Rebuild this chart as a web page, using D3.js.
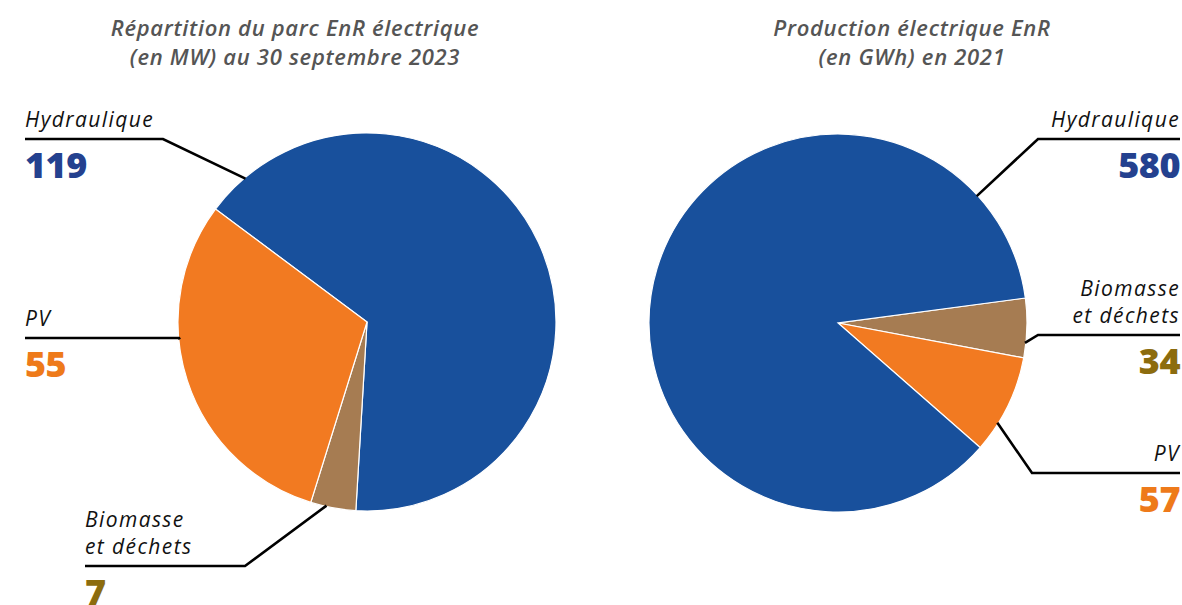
<!DOCTYPE html>
<html><head><meta charset="utf-8">
<script src="https://cdn.jsdelivr.net/npm/d3@7"></script>
<style>
html,body{margin:0;padding:0;background:#fff;}
svg{display:block;}
</style></head>
<body>
<svg id="chart" width="1182" height="605"></svg>
<script>
// ---- Data ----
const leftTitle = ["Répartition du parc EnR électrique", "(en MW) au 30 septembre 2023"];
const leftCategories = ["Hydraulique", "Biomasse et déchets", "PV"];
const leftValues = [119, 7, 55];

const rightTitle = ["Production électrique EnR", "(en GWh) en 2021"];
const rightCategories = ["Biomasse et déchets", "PV", "Hydraulique"];
const rightValues = [34, 57, 580];

// ---- Styles ----
const sliceColor = {"Hydraulique": "#18509c", "PV": "#f27a21", "Biomasse et déchets": "#a67c52"};
const numberColor = {"Hydraulique": "#24418f", "PV": "#ee7a1a", "Biomasse et déchets": "#8c6c0e"};
const labelLines = {"Hydraulique": ["Hydraulique"], "PV": ["PV"], "Biomasse et déchets": ["Biomasse", "et déchets"]};

const svg = d3.select("#chart");
const deg = Math.PI / 180;

function drawPie(cfg) {
  const g = svg.append("g");
  // title
  cfg.title.forEach((t, i) => {
    g.append("text").attr("x", cfg.titleX).attr("y", 36 + i * 29)
      .attr("text-anchor", "middle")
      .attr("font-family", "Open Sans, sans-serif").attr("font-style", "italic")
      .attr("font-weight", 600).attr("font-size", 22).attr("fill", "#555")
      .attr("letter-spacing", 0.7)
      .text(t);
  });

  const pie = d3.pie().sort(null).value(d => d.v)
    .startAngle(cfg.start * deg).endAngle(cfg.start * deg + 2 * Math.PI);
  const data = cfg.cats.map((c, i) => ({c, v: cfg.vals[i]}));
  const arcs = pie(data);
  const arc = d3.arc().innerRadius(0).outerRadius(cfg.r);
  const pg = g.append("g").attr("transform", `translate(${cfg.cx},${cfg.cy})`);
  pg.selectAll("path").data(arcs).join("path")
    .attr("d", arc).attr("fill", d => sliceColor[d.data.c])
    .attr("stroke", "#fff").attr("stroke-width", 1.2);

  // leaders and labels
  arcs.forEach(a => {
    const L = cfg.labels[a.data.c];
    const ang = a.startAngle + (a.endAngle - a.startAngle) * L.frac;
    const px = cfg.cx + Math.sin(ang) * (cfg.r - 1);
    const py = cfg.cy - Math.cos(ang) * (cfg.r - 1);
    const pts = [[px, py], [L.elbowX, L.lineY], [L.endX, L.lineY]];
    g.append("path").attr("d", d3.line()(pts))
      .attr("fill", "none").attr("stroke", "#000").attr("stroke-width", 2.6);
    const anchor = L.align === "right" ? "end" : "start";
    const tx = L.align === "right" ? L.endX : L.textX;
    const lines = labelLines[a.data.c];
    lines.forEach((t, i) => {
      g.append("text").attr("x", tx).attr("y", L.lineY - 12 - (lines.length - 1 - i) * 27)
        .attr("text-anchor", anchor)
        .attr("font-family", "Open Sans, sans-serif").attr("font-style", "italic")
        .attr("font-weight", 400).attr("font-size", 21).attr("fill", "#111")
        .attr("letter-spacing", 1.4)
        .text(t);
    });
    g.append("text").attr("x", tx).attr("y", L.lineY + 39)
      .attr("text-anchor", anchor)
      .attr("font-family", "Open Sans, sans-serif").attr("font-weight", 800)
      .attr("font-size", 36).attr("fill", numberColor[a.data.c])
      .attr("letter-spacing", -0.5)
      .text(a.data.v);
  });
}

drawPie({
  title: leftTitle, titleX: 295, cats: leftCategories, vals: leftValues,
  cx: 367, cy: 322, r: 189, start: -53.3,
  labels: {
    "Hydraulique": {frac: 0.055, elbowX: 163, lineY: 139, endX: 25, textX: 25, align: "left"},
    "PV": {frac: 0.616, elbowX: 179, lineY: 338, endX: 25, textX: 25, align: "left"},
    "Biomasse et déchets": {frac: 0.65, elbowX: 245, lineY: 566, endX: 85, textX: 85, align: "left"}
  }
});

drawPie({
  title: rightTitle, titleX: 912, cats: rightCategories, vals: rightValues,
  cx: 838, cy: 323, r: 189, start: 82.4,
  labels: {
    "Hydraulique": {frac: 0.888, elbowX: 1038, lineY: 139, endX: 1180, align: "right"},
    "Biomasse et déchets": {frac: 0.75, elbowX: 1038, lineY: 335, endX: 1180, align: "right"},
    "PV": {frac: 0.70, elbowX: 1032, lineY: 473, endX: 1180, align: "right"}
  }
});
</script>
</body></html>
